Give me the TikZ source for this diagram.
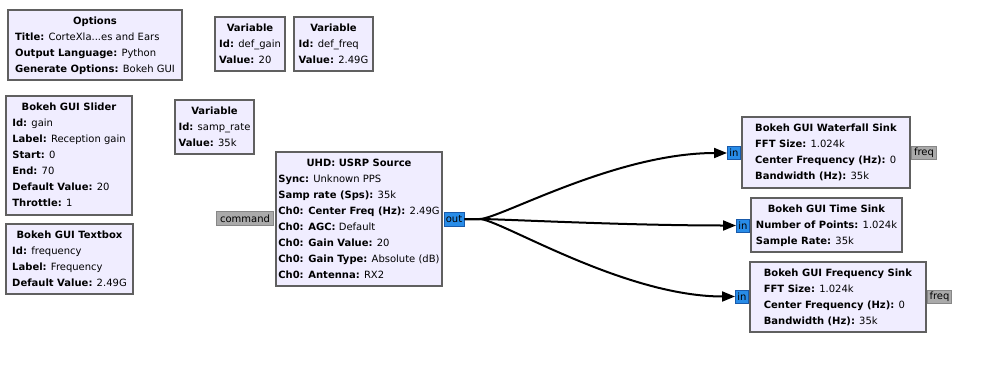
\documentclass[tikz,border=0pt]{standalone}
\usepackage{fontspec}
\setmainfont{DejaVu Sans}
\usetikzlibrary{arrows.meta}
\definecolor{blkfill}{RGB}{240,237,255}
\definecolor{blkdraw}{RGB}{96,96,96}
\definecolor{portblue}{RGB}{40,140,232}
\definecolor{portblueb}{RGB}{25,90,170}
\definecolor{portgray}{RGB}{170,170,170}
\definecolor{portgrayb}{RGB}{135,135,135}
\newcommand{\btitle}[1]{\multicolumn{1}{@{}c@{}}{\textbf{#1}}}
\newcommand{\kv}[2]{\textbf{#1:} #2}
\newcommand{\blkrows}[1]{\begin{tabular}{@{}l@{}}#1\end{tabular}}
\begin{document}
\begin{tikzpicture}[x=1pt,y=-1pt,
  blk/.style 2 args={draw=blkdraw, fill=blkfill, line width=2pt, inner sep=0pt,
     minimum width=#1pt, minimum height=#2pt, font=\fontsize{10}{16}\selectfont},
  bport/.style 2 args={draw=portblueb, fill=portblue, line width=1pt, inner sep=0pt,
     minimum width=#1pt, minimum height=#2pt, font=\fontsize{10}{12}\selectfont},
  gport/.style 2 args={draw=portgrayb, fill=portgray, line width=1pt, inner sep=0pt,
     minimum width=#1pt, minimum height=#2pt, font=\fontsize{10}{12}\selectfont},
  conn/.style={draw=black, line width=2pt, -{Triangle[length=13pt,width=10pt]}}]
\useasboundingbox[fill=white] (0,0) rectangle (984,364);

% ports
\node[gport={57}{14}] (cmd) at (245,218.5) {command};
\node[bport={20}{14}] (out) at (454,219) {out};
\node[bport={13}{13}] (wfin) at (734,153) {in};
\node[gport={25}{13}] (wffreq) at (924,153) {freq};
\node[bport={13}{13}] (tin) at (743,225.5) {in};
\node[bport={13}{13}] (fsin) at (742,296.5) {in};
\node[gport={24}{13}] (fsfreq) at (939.5,296.5) {freq};

% blocks
\node[blk={174}{70}] (opt) at (95,45) {\blkrows{\btitle{Options}\\
  \kv{Title}{CorteXla...es and Ears}\\
  \kv{Output Language}{Python}\\
  \kv{Generate Options}{Bokeh GUI}}};
\node[blk={70}{54}] (vgain) at (250,44) {\blkrows{\btitle{Variable}\\
  \kv{Id}{def\_gain}\\
  \kv{Value}{20}}};
\node[blk={79}{54}] (vfreq) at (333.5,44) {\blkrows{\btitle{Variable}\\
  \kv{Id}{def\_freq}\\
  \kv{Value}{2.49G}}};
\node[blk={126}{119}] (slider) at (69,155.5) {\blkrows{\btitle{Bokeh GUI Slider}\\
  \kv{Id}{gain}\\
  \kv{Label}{Reception gain}\\
  \kv{Start}{0}\\
  \kv{End}{70}\\
  \kv{Default Value}{20}\\
  \kv{Throttle}{1}}};
\node[blk={127}{70}] (textbox) at (69.5,259) {\blkrows{\btitle{Bokeh GUI Textbox}\\
  \kv{Id}{frequency}\\
  \kv{Label}{Frequency}\\
  \kv{Default Value}{2.49G}}};
\node[blk={79}{54}] (vsamp) at (214.5,127) {\blkrows{\btitle{Variable}\\
  \kv{Id}{samp\_rate}\\
  \kv{Value}{35k}}};
\node[blk={166}{134}] (usrp) at (359,219) {\blkrows{\btitle{UHD: USRP Source}\\
  \kv{Sync}{Unknown PPS}\\
  \kv{Samp rate (Sps)}{35k}\\
  \kv{Ch0: Center Freq (Hz)}{2.49G}\\
  \kv{Ch0: AGC}{Default}\\
  \kv{Ch0: Gain Value}{20}\\
  \kv{Ch0: Gain Type}{Absolute (dB)}\\
  \kv{Ch0: Antenna}{RX2}}};
\node[blk={168}{71}] (wf) at (826,152.5) {\blkrows{\btitle{Bokeh GUI Waterfall Sink}\\
  \kv{FFT Size}{1.024k}\\
  \kv{Center Frequency (Hz)}{0}\\
  \kv{Bandwidth (Hz)}{35k}}};
\node[blk={151}{54}] (time) at (826.5,225) {\blkrows{\btitle{Bokeh GUI Time Sink}\\
  \kv{Number of Points}{1.024k}\\
  \kv{Sample Rate}{35k}}};
\node[blk={176}{70}] (fs) at (838,297) {\blkrows{\btitle{Bokeh GUI Frequency Sink}\\
  \kv{FFT Size}{1.024k}\\
  \kv{Center Frequency (Hz)}{0}\\
  \kv{Bandwidth (Hz)}{35k}}};

% connections
\draw[conn] (out.east) -- ++(15,0) .. controls +(20,0) and +(-100,0) .. ([xshift=-12pt]wfin.west) -- (wfin.west);
\draw[conn] (out.east) -- ++(15,0) .. controls +(20,0) and +(-100,0) .. ([xshift=-12pt]tin.west) -- (tin.west);
\draw[conn] (out.east) -- ++(15,0) .. controls +(20,0) and +(-100,0) .. ([xshift=-12pt]fsin.west) -- (fsin.west);
\end{tikzpicture}
\end{document}
